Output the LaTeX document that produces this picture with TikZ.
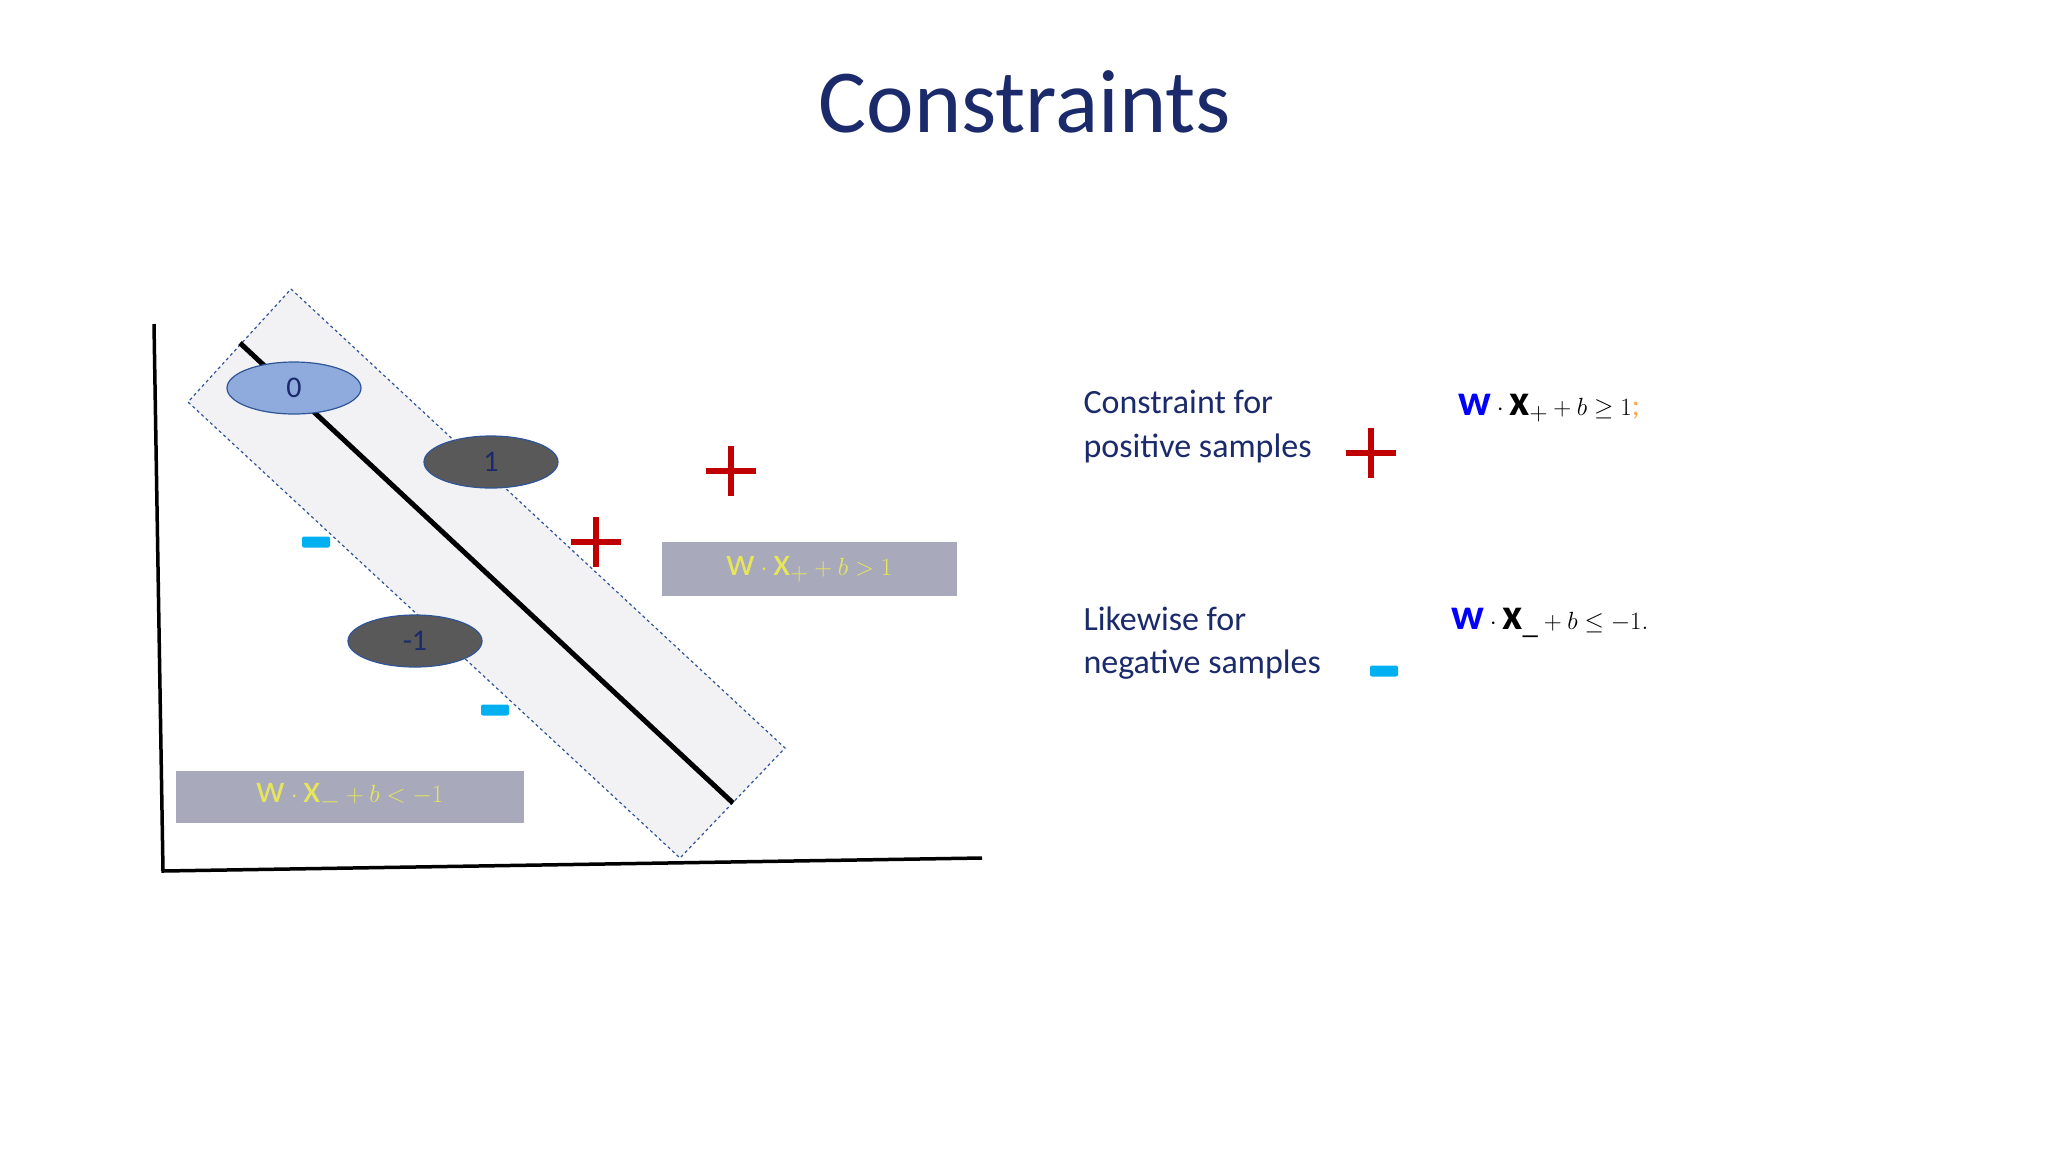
\documentclass[tikz,border=0pt]{standalone}
\usepackage{fontspec}
\setmainfont{Carlito}
\usepackage{amsmath}
\usetikzlibrary{shapes.geometric,calc}
\definecolor{navy}{HTML}{1B2A6B}
\definecolor{lblue}{HTML}{8FAADC}
\definecolor{eborder}{HTML}{2F5597}
\definecolor{dgray}{HTML}{595959}
\definecolor{pred}{HTML}{C00000}
\definecolor{mcyan}{HTML}{00B0F0}
\definecolor{boxgray}{HTML}{A9A9BC}
\definecolor{ylw}{HTML}{E6E65A}
\definecolor{band}{HTML}{F2F2F4}
\tikzset{
  ell/.style={ellipse, draw=eborder, line width=1.2pt, minimum width=134pt, minimum height=52pt, text=navy, font=\fontsize{30}{34}\selectfont},
  plusmark/.style={draw=pred, line width=6pt},
  minusmark/.style={fill=mcyan, rounded corners=2pt},
  gbox/.style={fill=boxgray, text=ylw, inner sep=0pt, font=\fontsize{40}{44}\selectfont},
  body/.style={text=navy, anchor=west, font=\fontsize{34}{40}\selectfont},
  frm/.style={anchor=west, font=\fontsize{44}{48}\selectfont}
}
\begin{document}
\begin{tikzpicture}[x=1pt,y=-1pt]
\useasboundingbox (0,0) rectangle (2048,1152);
\node[text=navy, font=\fontsize{90}{100}\selectfont] (title) at (1025,102) {Constraints};
% axes
\coordinate (ytop) at (154,324); \coordinate (orig) at (163,871); \coordinate (xend) at (982,858);
\draw[line width=3.5pt] (ytop) -- (orig) -- (xend);
% band
\coordinate (bt) at (291,289); \coordinate (bl) at (188,402); \coordinate (bb) at (680,858); \coordinate (br) at (785,748);
\draw[fill=band, draw=eborder, dashed, line width=1.2pt] (bt) -- (br) -- (bb) -- (bl) -- cycle;
\coordinate (l1) at (240,343); \coordinate (l2) at (733,803);
\draw[line width=5pt] (l1) -- (l2);
% ellipses
\node[ell, fill=lblue] (e0) at (294,388) {0};
\node[ell, fill=dgray] (e1) at (491,462) {1};
\node[ell, fill=dgray] (em) at (415,641) {-1};
% plus marks
\foreach \n/\x/\y in {p1/731/471, p2/596/542, p3/1371/453}{
  \coordinate (\n) at (\x,\y);
  \draw[plusmark] ($(\n)+(-25,0)$) -- ($(\n)+(25,0)$);
  \draw[plusmark] ($(\n)+(0,-25)$) -- ($(\n)+(0,25)$);
}
% minus marks
\foreach \n/\x/\y in {m1/316/542, m2/495/710, m3/1384/671}{
  \node[minusmark, minimum width=28pt, minimum height=11pt, inner sep=0pt] (\n) at (\x,\y) {};
}
% grey boxes
\node[gbox, minimum width=295pt, minimum height=54pt] (g1) at (809.5,569) {$\mathrm{w}\cdot \mathrm{x}_{+}+b>1$};
\node[gbox, minimum width=348pt, minimum height=52pt] (g2) at (350,797) {$\mathrm{w}\cdot \mathrm{x}_{-}+b<-1$};
% right texts
\node[body] (t1) at (1080,402) {Constraint for};
\node[body] (t2) at (1080,448) {positive samples};
\node[body] (t3) at (1080,619) {Likewise for};
\node[body] (t4) at (1080,665) {negative samples};
\node[frm] (f1) at (1455,408) {$\color{blue}\mathbf{w}\color{black}\cdot\mathbf{x}_{+}+b\geq 1$\textcolor{orange!70}{\fontsize{30}{30}\selectfont;}};
\node[frm] (f2) at (1448,623) {$\color{blue}\mathbf{w}\color{black}\cdot\mathbf{x}_{\_}+b\leq -1.$};
\end{tikzpicture}
\end{document}
